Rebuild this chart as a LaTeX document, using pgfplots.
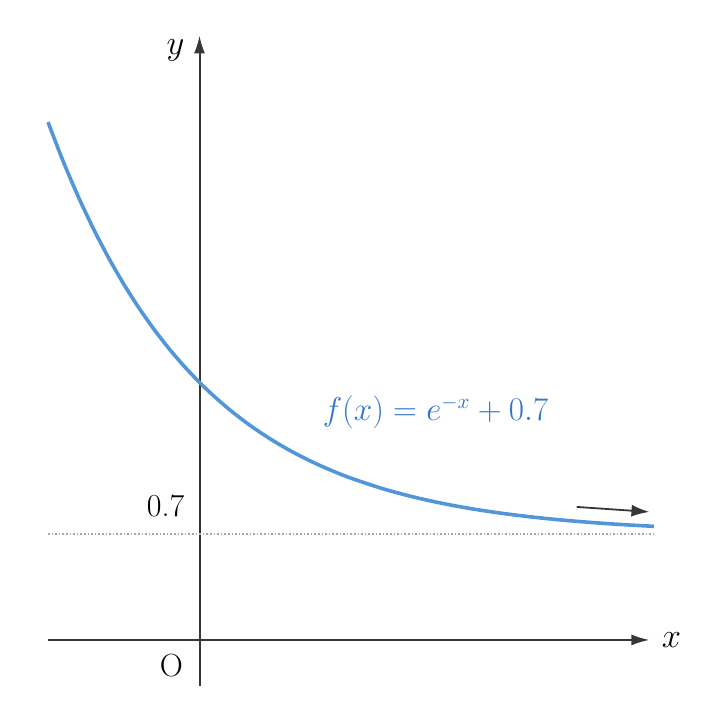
\documentclass[border=0pt]{standalone}
\usepackage{pgfplots}
\pgfplotsset{compat=1.18}
\usetikzlibrary{arrows.meta}
\definecolor{curve}{RGB}{82,150,218}
\definecolor{lab}{RGB}{50,118,208}
\definecolor{axc}{RGB}{55,55,55}
\begin{document}
\begin{tikzpicture}
\path[use as bounding box] (0,0) rectangle (355pt,363.5pt);
\begin{axis}[
  at={(24pt,20.5pt)}, anchor=south west,
  x=75.75pt, y=75.75pt,
  xmin=-1, xmax=2.97, ymin=-0.304, ymax=3.99,
  axis lines=middle,
  axis line style={axc, line width=1pt, -{Latex[length=9pt,width=5.5pt]}},
  ticks=none,
  clip=false,
  font=\fontsize{16}{19}\selectfont,
]
\addplot[gray!70, densely dotted, line width=0.8pt] coordinates {(-1,0.7) (3,0.7)};
\addplot[curve, line width=1.8pt, smooth] coordinates {
(-1.0,3.4183) (-0.9,3.1596) (-0.8,2.9255) (-0.7,2.7138) (-0.6,2.5221)
(-0.5,2.3487) (-0.4,2.1918) (-0.3,2.0499) (-0.2,1.9214) (-0.1,1.8052)
(0.0,1.7000) (0.1,1.6048) (0.2,1.5187) (0.3,1.4408) (0.4,1.3703)
(0.5,1.3065) (0.6,1.2488) (0.7,1.1966) (0.8,1.1493) (0.9,1.1066)
(1.0,1.0679) (1.2,1.0012) (1.4,0.9466) (1.6,0.9019) (1.8,0.8653)
(2.0,0.8353) (2.2,0.8108) (2.4,0.7907) (2.6,0.7743) (2.8,0.7608)
(3.0,0.7498)};
\addplot[axc, line width=0.9pt, -{Latex[length=9pt,width=6pt]}] coordinates {(2.49,0.878) (2.97,0.845)};
\node[lab, scale=0.957] at (axis cs:1.558,1.505) {$f(x)=e^{-x}+0.7$};
\node at (axis cs:-0.158,3.894) {$y$};
\node at (axis cs:3.115,0) {$x$};
\node at (axis cs:-0.185,-0.172) {O};
\node at (axis cs:-0.224,0.884) {0.7};
\end{axis}
\end{tikzpicture}
\end{document}
